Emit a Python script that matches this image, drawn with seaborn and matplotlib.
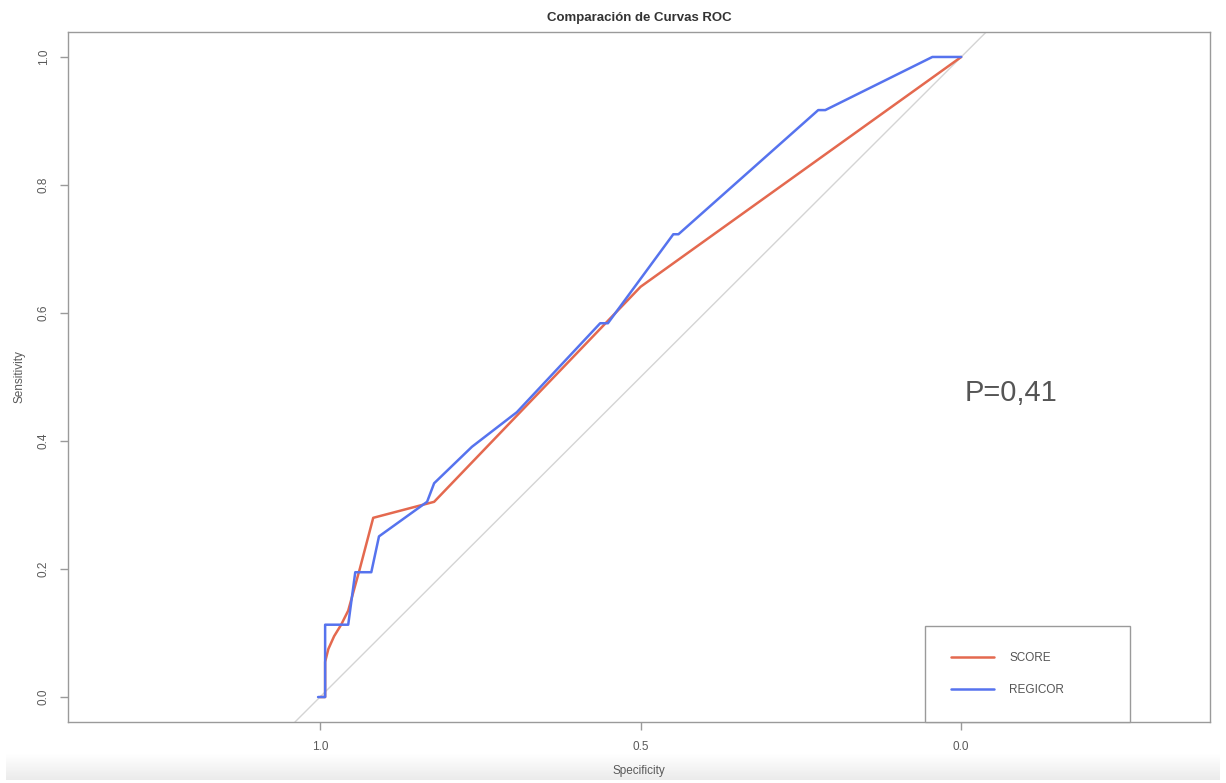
import numpy as np
import pandas as pd
import matplotlib
matplotlib.use("Agg")
import matplotlib.pyplot as plt
import seaborn as sns

# ROC curve coordinates (specificity, sensitivity) for each score
score_spec = [1.000, 0.992, 0.992, 0.987, 0.978, 0.967, 0.956, 0.938, 0.917, 0.822, 0.500, 0.000]
score_sens = [0.000, 0.000, 0.055, 0.075, 0.095, 0.113, 0.135, 0.200, 0.280, 0.305, 0.641, 1.000]

regicor_spec = [1.003, 0.992, 0.992, 0.956, 0.945, 0.920, 0.908, 0.833, 0.822, 0.763, 0.693,
                0.563, 0.551, 0.449, 0.441, 0.223, 0.212, 0.045, 0.000]
regicor_sens = [0.000, 0.000, 0.113, 0.113, 0.195, 0.195, 0.251, 0.305, 0.334, 0.391, 0.445,
                0.584, 0.584, 0.723, 0.723, 0.917, 0.917, 1.000, 1.000]

series_names = ["SCORE", "REGICOR"]
series_colors = ["#E4694F", "#5673EE"]
p_value_text = "P=0,41"

df = pd.concat([
    pd.DataFrame({"Specificity": score_spec, "Sensitivity": score_sens, "Modelo": series_names[0]}),
    pd.DataFrame({"Specificity": regicor_spec, "Sensitivity": regicor_sens, "Modelo": series_names[1]}),
], ignore_index=True)

sns.set_theme(style="white")
plt.rcParams["font.family"] = ["Liberation Sans", "DejaVu Sans"]

W, H = 1226, 783
fig = plt.figure(figsize=(W / 100, H / 100), dpi=100)
fig.patch.set_facecolor("white")

# soft grey band along the bottom edge
band = fig.add_axes([0.005, 3 / H, 0.99, 26 / H], zorder=-5)
grad = np.linspace(0, 1, 64).reshape(-1, 1)
band.imshow(grad, aspect="auto", cmap=matplotlib.colors.LinearSegmentedColormap.from_list(
    "band", ["#ebebeb", "#ffffff"]), origin="lower", extent=[0, 1, 0, 1])
band.axis("off")

left, right, top, bottom = 68, 1210, 32, 722
ax = fig.add_axes([left / W, 1 - bottom / H, (right - left) / W, (bottom - top) / H])

# chance diagonal
ax.axline((1, 0), (0, 1), color="#d4d4d4", lw=1.0, zorder=1)

sns.lineplot(data=df, x="Specificity", y="Sensitivity", hue="Modelo",
             palette=dict(zip(series_names, series_colors)), sort=False,
             estimator=None, lw=1.8, ax=ax, zorder=3)

ax.set_xlim(1.393, -0.388)
ax.set_ylim(-0.039, 1.039)
ax.set_xticks([1.0, 0.5, 0.0])
ax.set_xticklabels(["1.0", "0.5", "0.0"])
ax.set_yticks([0.0, 0.2, 0.4, 0.6, 0.8, 1.0])
ax.set_yticklabels(["0.0", "0.2", "0.4", "0.6", "0.8", "1.0"], rotation=90, va="center")

frame_col = "#9a9a9a"
for s in ax.spines.values():
    s.set_color(frame_col)
    s.set_linewidth(1.0)
ax.tick_params(axis="both", which="major", direction="out", length=6, width=1.0,
               color=frame_col, labelcolor="#5a5a5a", labelsize=8.5,
               left=True, bottom=True)
ax.tick_params(axis="x", pad=7.5)
ax.tick_params(axis="y", pad=7)

ax.set_xlabel("Specificity", fontsize=8.5, color="#5a5a5a", labelpad=9)
ax.set_ylabel("Sensitivity", fontsize=8.5, color="#5a5a5a", labelpad=9)
ax.set_title("Comparación de Curvas ROC", fontsize=9.5, fontweight="bold",
             color="#333333", pad=8)

ax.text(-0.005, 0.475, p_value_text, fontsize=21, color="#555555", ha="left", va="center")

handles, labels = ax.get_legend_handles_labels()
leg = ax.legend(handles, labels, loc="lower left",
                bbox_to_anchor=((925 - left) / (right - left), 0.0, 205 / (right - left), 0.1),
                mode="expand", frameon=True, fancybox=False, framealpha=1,
                edgecolor=frame_col, fontsize=8.5, handlelength=3.7, handletextpad=1.25,
                labelspacing=1.7, borderpad=2.18, borderaxespad=0.0)
leg.get_frame().set_linewidth(1.0)
for t in leg.get_texts():
    t.set_color("#555555")
for ln in leg.get_lines():
    ln.set_linewidth(1.8)

fig.savefig("out.png", dpi=100, facecolor="white")
